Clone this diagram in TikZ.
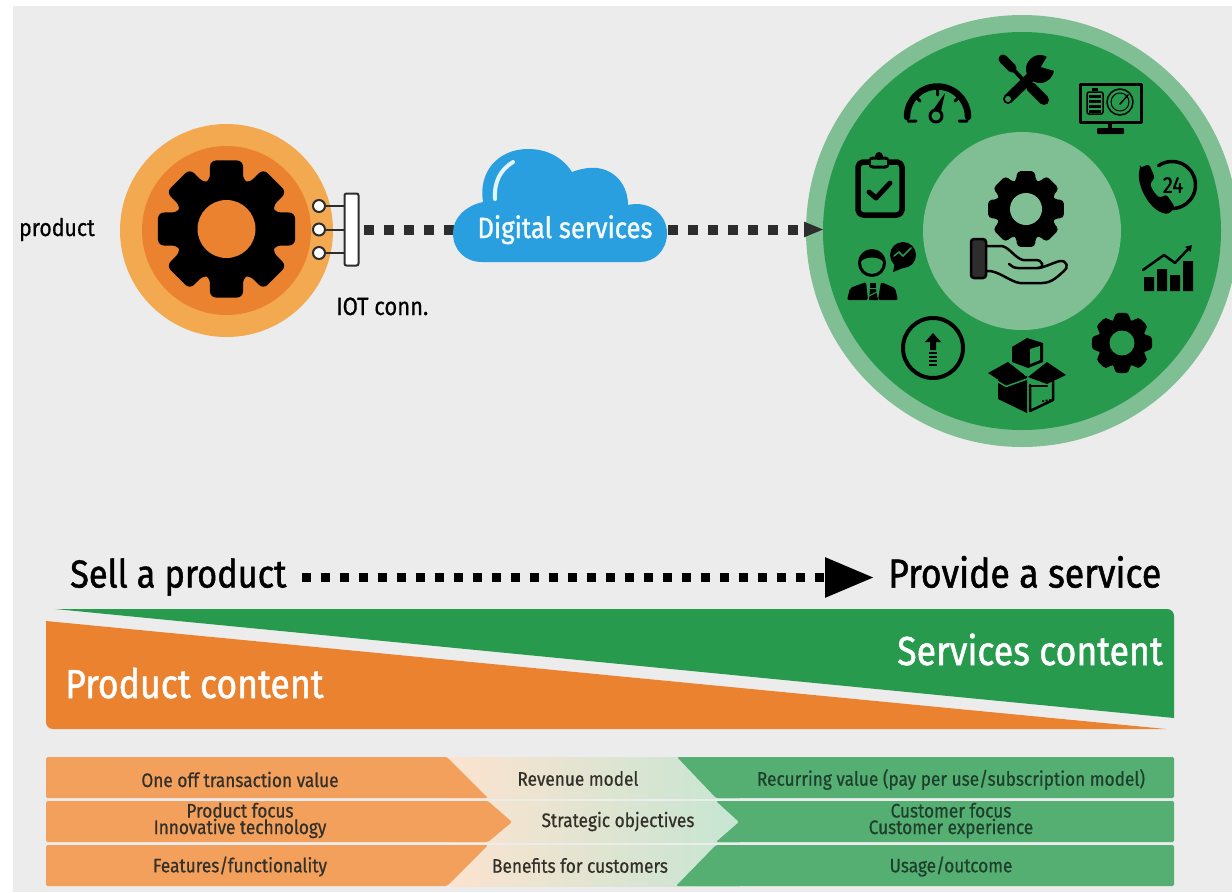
\documentclass[tikz,border=0pt]{standalone}
\usepackage{fontspec}
\setmainfont{Fira Sans}[FakeStretch=0.88,FakeBold=0.6]
\newfontfamily\headfont{Fira Sans}[FakeStretch=0.88,FakeBold=1.2]
\usetikzlibrary{arrows.meta}
\definecolor{bggray}{HTML}{ECECEC}
\definecolor{orA}{HTML}{EB8230}
\definecolor{orB}{HTML}{F2A950}
\definecolor{grA}{HTML}{279A4E}
\definecolor{grB}{HTML}{7FBF93}
\definecolor{rowO}{HTML}{F2A05C}
\definecolor{rowG}{HTML}{55AE72}
\definecolor{midA}{HTML}{FCE3CF}
\definecolor{midB}{HTML}{E9E4CC}
\definecolor{midC}{HTML}{C5E6D3}
\definecolor{blueC}{HTML}{2A9FE0}
\definecolor{dk}{HTML}{2D2D2D}
\definecolor{rowtxt}{HTML}{33302A}
\definecolor{rowtxtg}{HTML}{1E3F2C}
\newcommand{\gearicon}[7]{% cx cy Rout Rroot Rhole corner holecolor
  \begin{scope}[shift={(#1,#2)}]
    \fill[black,rounded corners=#6]
      ({-90-19}:#4)
      \foreach \gi in {0,...,7}{
        -- ({\gi*45-90-19}:#4)
        -- ({\gi*45-90-13.5}:#3)
        -- ({\gi*45-90+13.5}:#3)
        -- ({\gi*45-90+19}:#4)
      } -- cycle;
    \fill[#7] (0,0) circle[radius=#5];
  \end{scope}}
\tikzset{
  x=1pt,y=-1pt,
  dotsq/.style={draw=dk,line width=10pt,dash pattern=on 10pt off 10pt},
  dotsb/.style={draw=black,line width=9pt,dash pattern=on 9pt off 10pt},
  pin/.style={circle,draw=dk,fill=white,line width=2pt,minimum size=12pt,inner sep=0pt},
  label/.style={inner sep=0pt,text=black,font=\fontsize{24.2}{26}\selectfont},
  big/.style={inner sep=0pt,text=black,text height=28pt,text depth=8pt},
  whitehead/.style={inner sep=0pt,text=white,font=\headfont\fontsize{40.5}{42}\selectfont},
  rowlabel/.style={inner sep=0pt,text=rowtxt,align=center,font=\fontsize{19.6}{15}\selectfont},
  rowlabelg/.style={rowlabel,text=rowtxtg},
  ic/.style={line width=#1,draw=black,line cap=round,line join=round},
}
\begin{document}
\begin{tikzpicture}
\useasboundingbox (0,0) rectangle (1232,892);
\fill[white] (0,0) rectangle (1232,892);
\fill[bggray] (13,6) rectangle (1232,892);

% product circle
\node[circle,fill=orB,minimum size=213pt,inner sep=0pt] (prod) at (226.5,230.5) {};
\node[circle,fill=orA,minimum size=169pt,inner sep=0pt] (prodin) at (226.5,230.5) {};
\gearicon{226.5}{229}{70.5}{51}{29}{6}{orA}
\node[label,anchor=base east] (productlabel) at (95,236) {product};

% IoT connector
\node[pin] (p1) at (319,206) {};
\node[pin] (p2) at (319,229.5) {};
\node[pin] (p3) at (319,253) {};
\node[draw=dk,fill=white,line width=2pt,rounded corners=2pt,minimum width=14pt,minimum height=72pt,inner sep=0pt] (bar) at (351.5,229.5) {};
\draw[dk,line width=2pt] (p1) -- (bar.west |- p1);
\draw[dk,line width=2pt] (p2) -- (bar.west |- p2);
\draw[dk,line width=2pt] (p3) -- (bar.west |- p3);
\node[label,anchor=base west,font=\fontsize{25}{26}\selectfont] (iot) at (336,315) {IOT conn.};

% big circle
\node[circle,fill=grB,minimum size=432pt,inner sep=0pt] (svc) at (1022,231) {};
\node[circle,fill=grA,minimum size=398pt,inner sep=0pt] (svcin) at (1022,231) {};
\node[circle,fill=grB,minimum size=198pt,inner sep=0pt] (svccore) at (1022,231) {};

% connectors
\coordinate (cloudW) at (460,229.5);
\coordinate (cloudE) at (660,229.5);
\draw[dotsq] ([xshift=4pt]bar.east) -- (cloudW);
\draw[dotsq,-{Triangle[length=20pt,width=14pt,color=dk]}] ([xshift=8pt]cloudE) -- (824,229.5);

% cloud
\fill[blueC] (483,202) .. controls (478,172) and (498,149) .. (528,149)
  .. controls (548,149) and (563,158) .. (572,172)
  .. controls (580,169) and (590,167) .. (597,168)
  .. controls (615,170) and (628,185) .. (628,205)
  .. controls (650,200) and (667,215) .. (667,233)
  .. controls (667,250) and (655,262) .. (640,262)
  -- (482,262) .. controls (465,262) and (453,250) .. (453,233)
  .. controls (453,218) and (465,206) .. (483,202) -- cycle;
\draw[white!88!blueC,line width=4pt,line cap=round] (495,199) .. controls (494,182) and (500,170) .. (513,162);
\node[label,anchor=base,text=white!95!blueC,font=\headfont\fontsize{29.2}{30}\selectfont] (cloudtxt) at (565,238) {Digital services};

% centre gear + hand
\gearicon{1026}{209}{39}{29.5}{16}{4}{grB}
\draw[black,line width=2.5pt,fill=dk,rounded corners=3pt] (971,239) rectangle (986,278);
\draw[ic=2.5pt] (987,246) -- (1002,246) .. controls (1010,248) and (1015,258) .. (1023,260)
  -- (1036,260) .. controls (1043,260) and (1045,268) .. (1038,268) -- (1018,268) .. controls (1014,268) and (1011,266) .. (1009,264);
\draw[ic=2.5pt] (1038,268) .. controls (1046,267) and (1052,263) .. (1060,261)
  .. controls (1067,260) and (1069,268) .. (1064,271)
  .. controls (1058,276) and (1052,283) .. (1042,283)
  -- (1020,283) .. controls (1010,282) and (998,270) .. (987,271);

% wrench & screwdriver
\draw[ic=9pt] (1003,59) -- (1012,68);
\draw[ic=4pt] (1012,68) -- (1026,83);
\draw[ic=10pt] (1031,87) -- (1044,100);
\fill[black] (1040,69) circle[radius=14pt];
\draw[ic=10pt] (1008,99) -- (1036,72);
\fill[grA] (1041,67) -- (1052,48) -- (1065,55) -- (1058,72) -- cycle;
\fill[grA] (1008,99) circle[radius=3pt];

% gauge
\draw[ic=6.5pt] plot[domain=180:360,samples=40] ({937.5+30.5*cos(\x)},{117+30.5*sin(\x)});
\draw[ic=3pt] (908,121) -- (916,121) (967,121) -- (959,121) (937.5,90) -- (937.5,95)
  (915,96) -- (920,101) (960,96) -- (955,101);
\draw[ic=3pt] (936,116) circle[radius=6pt];
\fill[black] (933,110) -- (945,93) -- (941,111) -- cycle;

% monitor
\draw[ic=3pt] (1080,84) rectangle (1141,122);
\fill[black] (1108,122) rectangle (1112,128);
\fill[black,rounded corners=1pt] (1097,128) rectangle (1124,134);
\draw[ic=1.5pt,rounded corners=2pt] (1087,92) rectangle (1103,114);
\fill[black] (1092,88) rectangle (1098,91);
\foreach \yy in {95,100,105,110}{\fill[black] (1089,\yy) rectangle (1101,\yy+3);}
\draw[ic=1.5pt] (1120,102) circle[radius=13pt];
\draw[ic=1pt] (1120,102) circle[radius=9pt];
\draw[ic=1.5pt] (1120,104) -- (1128,95);

% phone 24
\draw[ic=3.5pt] plot[domain=-125:115,samples=40] ({1172+23.5*cos(\x)},{185+23.5*sin(\x)});
\fill[black,rounded corners=3pt] (1140,168) -- (1149,164) -- (1155,178) -- (1150,183)
  .. controls (1152,190) and (1157,196) .. (1161,198) -- (1166,194) -- (1175,207) -- (1169,214)
  .. controls (1150,212) and (1136,185) .. (1140,168) -- cycle;
\node[inner sep=0pt,text=black,font=\headfont\fontsize{23}{23}\selectfont] (n24) at (1173,185) {24};

% chart
\fill[black] (1144,277) rectangle (1154,291) (1157,269) rectangle (1167,291)
  (1170,275) rectangle (1180,291) (1183,261) rectangle (1193,291);
\draw[ic=2.5pt,-{Triangle[length=6pt,width=7pt]}] (1143,270) -- (1164,255) -- (1175,263) -- (1192,245);

% right gear
\gearicon{1122}{343}{31}{23.5}{12.5}{4}{grA}

% box
\fill[black] (1027,338) -- (1043,343) -- (1043,362) -- (1028,368) -- (1012,362) -- (1012,347) -- cycle;
\fill[grA] (1030,349) -- (1040,346) -- (1040,360) -- (1030,364) -- cycle;
\fill[black] (998,378) -- (1027,376) -- (1027,413) -- (998,399) -- cycle;
\fill[black] (988,373) -- (1008,362) -- (1027,377) -- (1005,384) -- cycle;
\fill[black] (1047,362) -- (1066,375) -- (1047,384) -- (1028,377) -- cycle;
\draw[grA,line width=1.5pt] (997,381) -- (1006,386.5) -- (1027,379);
\draw[ic=2.5pt] (1030,385) -- (1030,411) -- (1053,400) -- (1053,381);
\draw[ic=2.5pt] (1030,386) -- (1047,386);
\fill[black] (1042,400) rectangle (1044,402) (1045.5,399.5) rectangle (1047.5,401.5) (1049,399) rectangle (1051,401);

% upload
\draw[ic=4pt] (933,348) circle[radius=30pt];
\fill[black] (933,333) -- (941,342) -- (936,342) -- (936,350) -- (930,350) -- (930,342) -- (925,342) -- cycle;
\foreach \yy in {352,356,360,364}{\fill[black] (929,\yy) rectangle (937,\yy+1.8);}

% person
\draw[ic=3pt] (872,263) circle[radius=12.5pt];
\fill[black] (860,262) .. controls (862,248) and (882,248) .. (884,262) .. controls (878,256) and (866,256) .. (860,262) -- cycle;
\fill[black] (903,255) circle[radius=13pt];
\fill[black] (893,272) -- (895,262) -- (903,268) -- cycle;
\draw[grA,line width=1.5pt,line cap=round] (894,256) -- (899,252) -- (903,256) -- (911,248);
\fill[black,rounded corners=2pt] (847,300) -- (850,288) -- (866,282) -- (868,300) -- cycle;
\fill[black,rounded corners=2pt] (898,300) -- (895,288) -- (881,282) -- (878,300) -- cycle;
\fill[black] (870,283) rectangle (876,288);
\fill[black] (870,289) -- (876,289) -- (878,300) -- (869,300) -- cycle;
\draw[grA,line width=1pt] (869,296) -- (877,292);

% clipboard
\draw[ic=5.5pt,rounded corners=5pt] (858,162) rectangle (902,215);
\draw[black,fill=grA,line width=3pt,rounded corners=3pt] (870,158) rectangle (888,167);
\fill[black] (879,156) circle[radius=4pt];
\fill[grA] (871,160) rectangle (887,165);
\draw[ic=5pt] (869,192) -- (876,198) -- (890,183);

% spectrum header
\node[big,anchor=west,font=\headfont\fontsize{39}{40}\selectfont] (sell) at (70,577.5) {Sell a product};
\node[big,anchor=west,font=\headfont\fontsize{40.5}{42}\selectfont] (provide) at (888,577.5) {Provide a service};
\draw[dotsb,shorten <=15pt,shorten >=14pt,-{Triangle[length=49pt,width=38pt,color=black]}] (sell.east) -- (provide.west);

% wedges
\fill[grA] (55,609) -- (1167,609) .. controls (1171,609) and (1174,612) .. (1174,616) -- (1174,718) -- cycle;
\fill[orA] (46,621) -- (1166,729) -- (53,729) .. controls (49,729) and (46,726) .. (46,722) -- cycle;
\node[whitehead,anchor=base west] (pcontent) at (65,698) {Product content};
\node[whitehead,anchor=base east] (scontent) at (1163,665) {Services content};

% rows
\foreach \ya/\yb in {757/798,801/842,845/886}{
  \shade[left color=midA,middle color=midB,right color=midC] (450,\ya) rectangle (740,\yb);
}
\fill[rowO,rounded corners=1.5pt] (46,757) -- (447,757) -- (488,798) -- (46,798) -- cycle;
\fill[rowO,rounded corners=1.5pt] (46,801) -- (488,801) -- (512,822) -- (488,842) -- (46,842) -- cycle;
\fill[rowO,rounded corners=1.5pt] (46,845) -- (488,845) -- (447,886) -- (46,886) -- cycle;
\fill[rowG,rounded corners=1.5pt] (677,757) -- (1174,757) -- (1174,798) -- (716,798) -- cycle;
\fill[rowG,rounded corners=1.5pt] (716,801) -- (1174,801) -- (1174,842) -- (716,842) -- (739,822) -- cycle;
\fill[rowG,rounded corners=1.5pt] (716,845) -- (1174,845) -- (1174,886) -- (676,886) -- cycle;

\node[rowlabel] (r1a) at (240,779.5) {One off transaction value};
\node[rowlabel] (r2a) at (240,820.5) {Product focus\\Innovative technology};
\node[rowlabel] (r3a) at (240,866.5) {Features/functionality};
\node[rowlabel] (r1b) at (578,778.5) {Revenue model};
\node[rowlabel] (r2b) at (618,821.5) {Strategic objectives};
\node[rowlabel] (r3b) at (580,865.5) {Benefits for customers};
\node[rowlabelg] (r1c) at (951,779.5) {Recurring value (pay per use/subscription model)};
\node[rowlabelg] (r2c) at (951,820.5) {Customer focus\\Customer experience};
\node[rowlabelg] (r3c) at (951,866.5) {Usage/outcome};
\end{tikzpicture}
\end{document}
